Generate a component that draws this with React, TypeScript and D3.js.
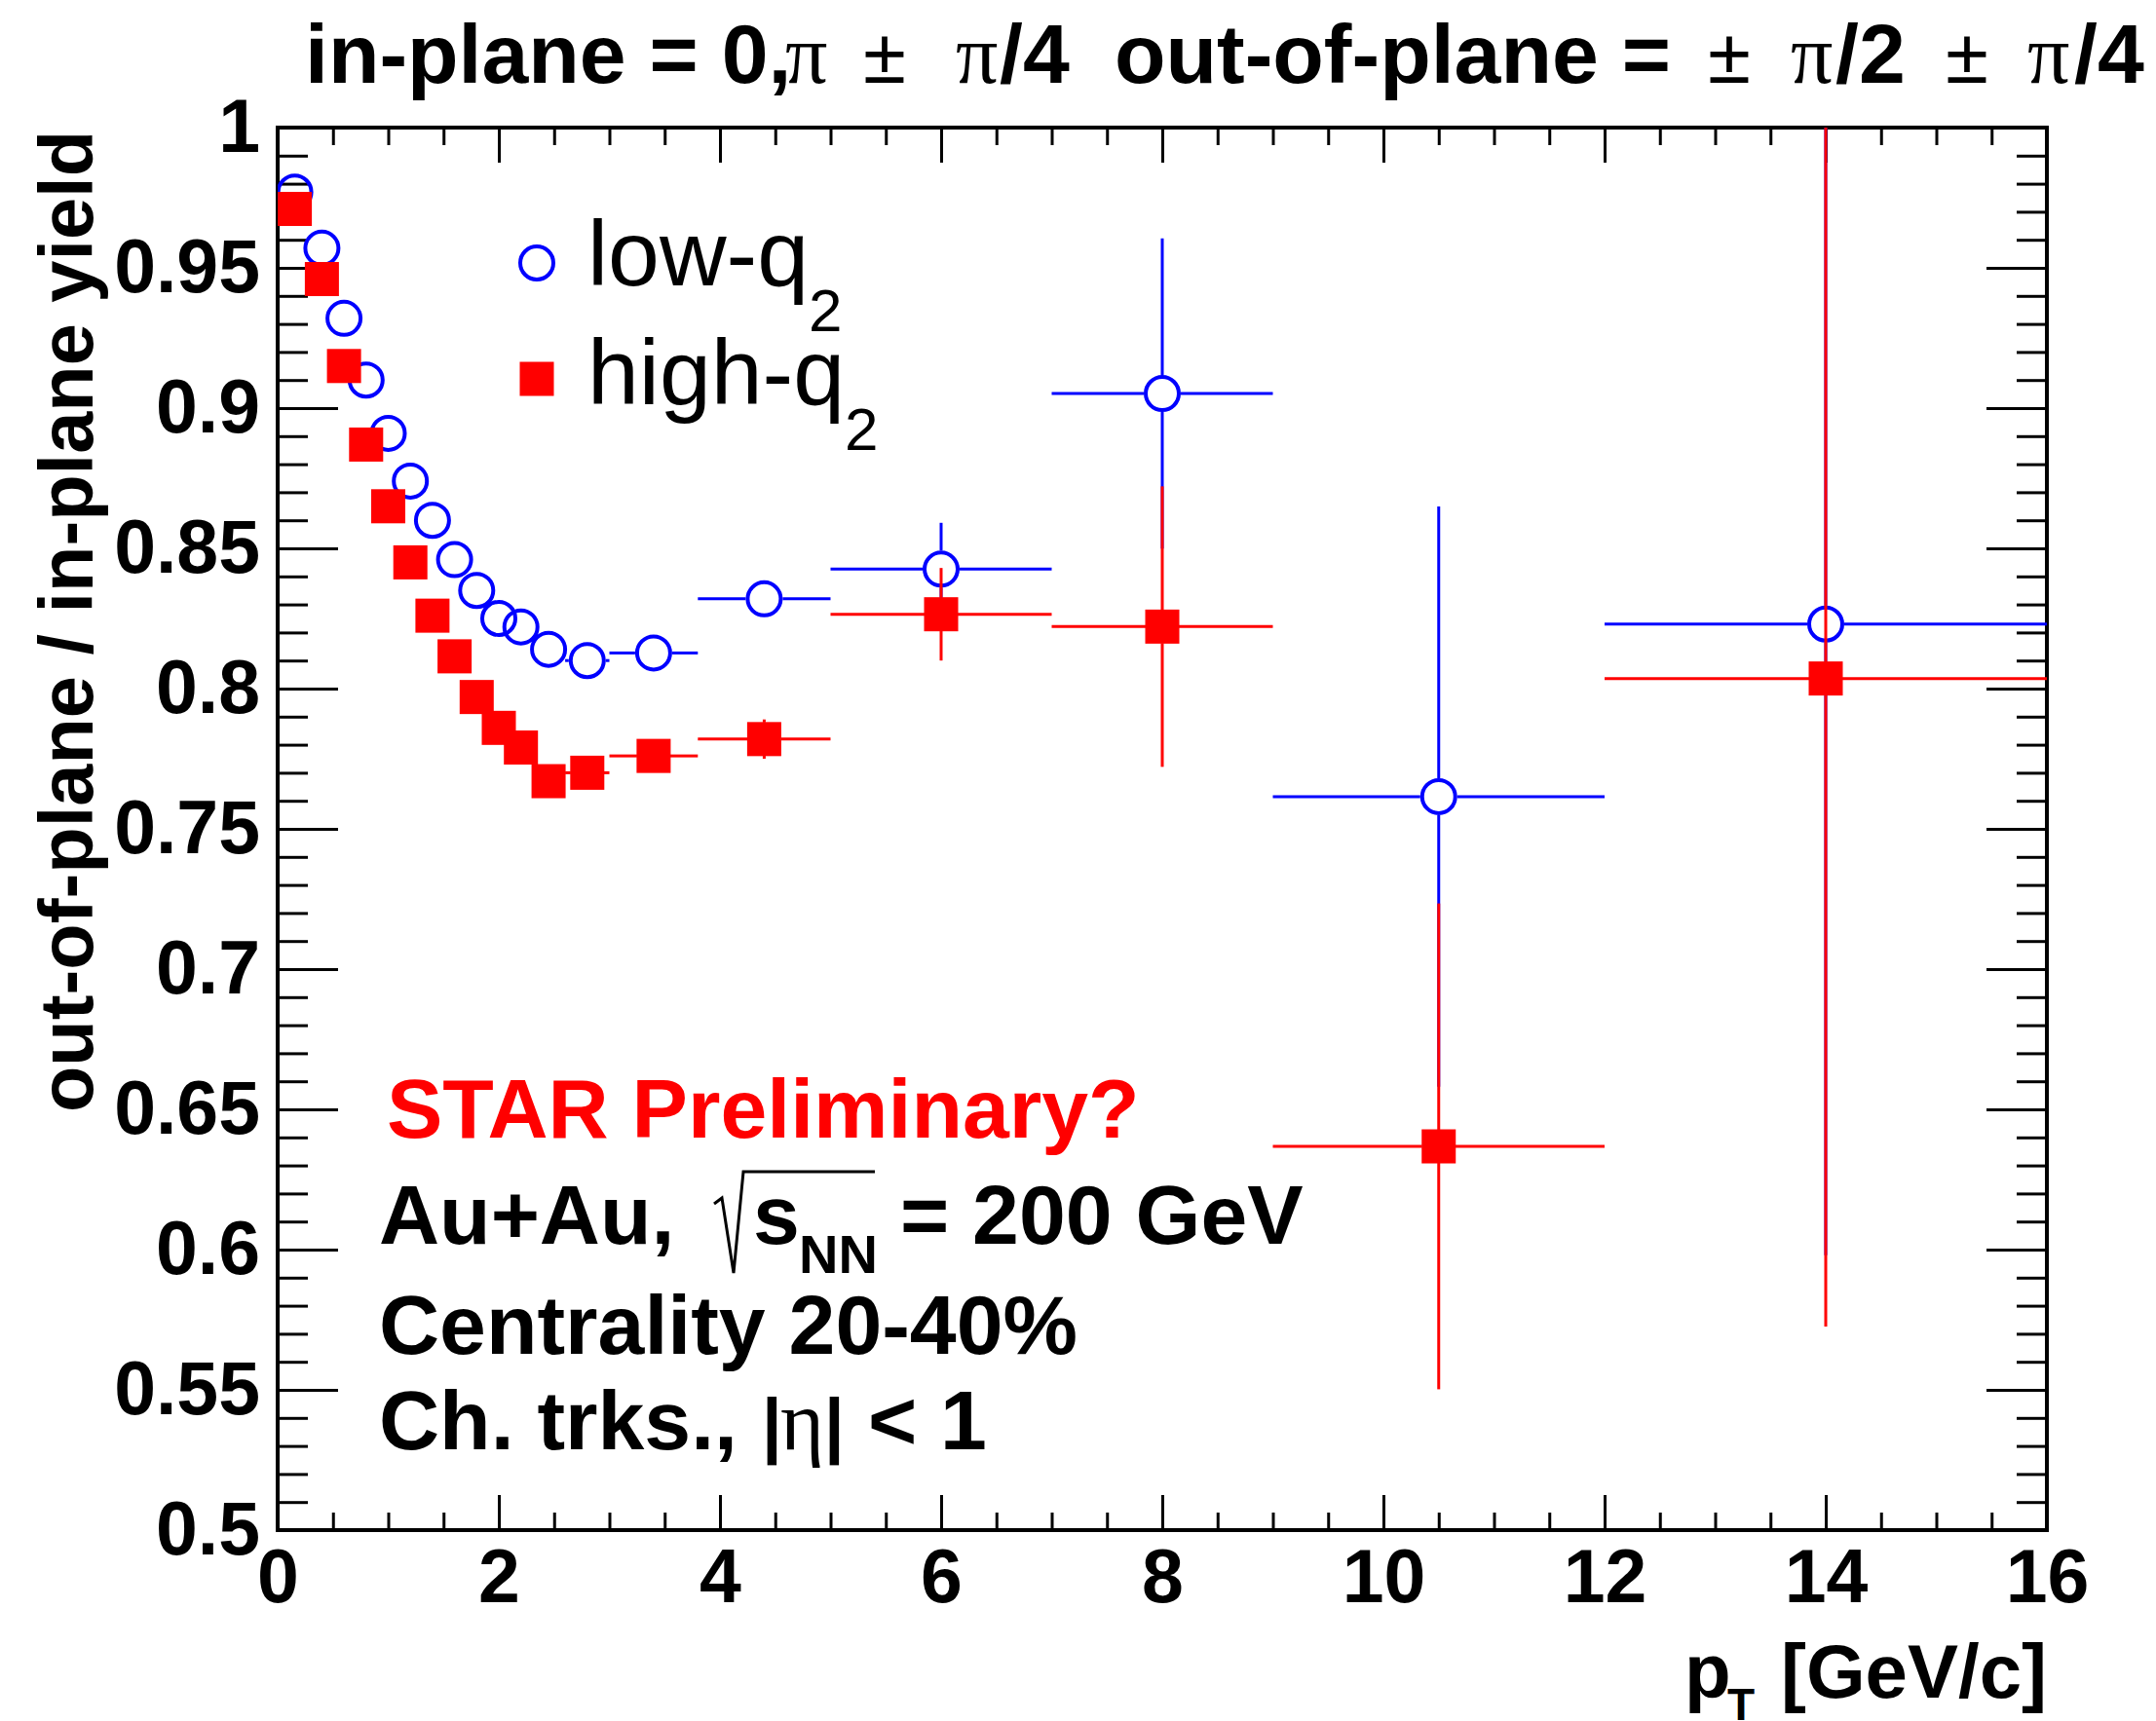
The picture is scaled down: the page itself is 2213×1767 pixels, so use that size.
import React, { useEffect, useRef } from 'react'
import * as d3 from 'd3'

// pT bin centres and bin edges (GeV/c)
const pt = [0.155, 0.4, 0.6, 0.8, 1.0, 1.2, 1.4, 1.6, 1.8, 2.0, 2.2, 2.45, 2.8, 3.4, 4.4, 6, 8, 10.5, 14]
const ptLo = [0.1, 0.3, 0.5, 0.7, 0.9, 1.1, 1.3, 1.5, 1.7, 1.9, 2.1, 2.3, 2.6, 3.0, 3.8, 5, 7, 9, 12]
const ptHi = [0.2, 0.5, 0.7, 0.9, 1.1, 1.3, 1.5, 1.7, 1.9, 2.1, 2.3, 2.6, 3.0, 3.8, 5.0, 7, 9, 12, 16]

// low-q2 (open blue circles)
const lowQ2 = [0.977, 0.957, 0.932, 0.910, 0.891, 0.874, 0.860, 0.846, 0.835, 0.825, 0.822, 0.814, 0.810, 0.8127, 0.832, 0.8426, 0.9052, 0.7615, 0.823]
const lowQ2Err = [0.003, 0.003, 0.003, 0.003, 0.003, 0.003, 0.003, 0.003, 0.003, 0.003, 0.003, 0.004, 0.004, 0.004, 0.005, 0.0165, 0.0553, 0.1034, 0.225]

// high-q2 (filled red squares)
const highQ2 = [0.971, 0.946, 0.915, 0.887, 0.865, 0.845, 0.826, 0.8115, 0.797, 0.786, 0.779, 0.767, 0.770, 0.776, 0.782, 0.8265, 0.8221, 0.6368, 0.8036]
const highQ2Err = [0.003, 0.003, 0.003, 0.003, 0.003, 0.003, 0.003, 0.003, 0.003, 0.003, 0.003, 0.004, 0.004, 0.005, 0.007, 0.0165, 0.050, 0.0866, 0.231]

const xMajor = [0, 2, 4, 6, 8, 10, 12, 14, 16]
const xTickLabels = ['0', '2', '4', '6', '8', '10', '12', '14', '16']
const yMajor = [0.5, 0.55, 0.6, 0.65, 0.7, 0.75, 0.8, 0.85, 0.9, 0.95, 1]
const yTickLabels = ['0.5', '0.55', '0.6', '0.65', '0.7', '0.75', '0.8', '0.85', '0.9', '0.95', '1']

const SANS = 'Liberation Sans, Arial, Helvetica, sans-serif'
const SERIF = 'Liberation Serif, Times New Roman, serif'

export default function App() {
  const ref = useRef<SVGSVGElement>(null)

  useEffect(() => {
    const W = 2213, H = 1767
    const margin = { top: 131, right: 112, bottom: 196, left: 285 }
    const w = W - margin.left - margin.right
    const h = H - margin.top - margin.bottom

    const svg = d3.select(ref.current)
    svg.selectAll('*').remove()

    const x = d3.scaleLinear().domain([0, 16]).range([margin.left, margin.left + w])
    const y = d3.scaleLinear().domain([0.5, 1]).range([margin.top + h, margin.top])

    const xMinor = d3.range(0, 16.001, 0.5).filter(v => Math.abs(v % 2) > 1e-6)
    const yMinor = d3.range(50, 101, 1).map(v => v / 100).filter(v => Math.round(v * 100) % 5 !== 0)

    const styleAxis = (g: any) => {
      g.select('.domain').remove()
      g.selectAll('line').attr('stroke', '#000').attr('stroke-width', 3)
      g.attr('font-family', SANS).attr('font-size', 77).attr('font-weight', 'bold')
      g.selectAll('text').attr('fill', '#000')
    }

    // bottom axis
    svg.append('g').attr('transform', `translate(0,${margin.top + h})`)
      .call(d3.axisBottom(x).tickValues(xMajor).tickSize(-36).tickPadding(19)
        .tickFormat((d, i) => xTickLabels[i]))
      .call(styleAxis)
    svg.append('g').attr('transform', `translate(0,${margin.top + h})`)
      .call(d3.axisBottom(x).tickValues(xMinor).tickSize(-18).tickFormat(() => ''))
      .call(styleAxis)
    // top axis
    svg.append('g').attr('transform', `translate(0,${margin.top})`)
      .call(d3.axisTop(x).tickValues(xMajor).tickSize(-36).tickFormat(() => ''))
      .call(styleAxis)
    svg.append('g').attr('transform', `translate(0,${margin.top})`)
      .call(d3.axisTop(x).tickValues(xMinor).tickSize(-18).tickFormat(() => ''))
      .call(styleAxis)
    // left axis
    svg.append('g').attr('transform', `translate(${margin.left},0)`)
      .call(d3.axisLeft(y).tickValues(yMajor).tickSize(-62).tickPadding(18)
        .tickFormat((d, i) => yTickLabels[i]))
      .call(styleAxis)
    svg.append('g').attr('transform', `translate(${margin.left},0)`)
      .call(d3.axisLeft(y).tickValues(yMinor).tickSize(-31).tickFormat(() => ''))
      .call(styleAxis)
    // right axis
    svg.append('g').attr('transform', `translate(${margin.left + w},0)`)
      .call(d3.axisRight(y).tickValues(yMajor).tickSize(-62).tickFormat(() => ''))
      .call(styleAxis)
    svg.append('g').attr('transform', `translate(${margin.left + w},0)`)
      .call(d3.axisRight(y).tickValues(yMinor).tickSize(-31).tickFormat(() => ''))
      .call(styleAxis)

    // frame
    svg.append('rect')
      .attr('x', margin.left).attr('y', margin.top).attr('width', w).attr('height', h)
      .attr('fill', 'none').attr('stroke', '#000').attr('stroke-width', 4)

    // clip for data
    svg.append('clipPath').attr('id', 'plotclip').append('rect')
      .attr('x', margin.left).attr('y', margin.top).attr('width', w).attr('height', h)
    const plot = svg.append('g').attr('clip-path', 'url(#plotclip)')

    const drawSeries = (vals: number[], errs: number[], color: string, gap: number) => {
      const segs: [number, number, number, number][] = []
      vals.forEach((v, i) => {
        const cx = x(pt[i]), cy = y(v)
        const xl = x(ptLo[i]), xr = x(ptHi[i])
        const yt = y(v + errs[i]), yb = y(v - errs[i])
        if (cx - gap > xl) segs.push([xl, cy, cx - gap, cy])
        if (xr > cx + gap) segs.push([cx + gap, cy, xr, cy])
        if (cy - gap > yt) segs.push([cx, yt, cx, cy - gap])
        if (yb > cy + gap) segs.push([cx, cy + gap, cx, yb])
      })
      plot.append('g').selectAll('line').data(segs).join('line')
        .attr('x1', d => d[0]).attr('y1', d => d[1]).attr('x2', d => d[2]).attr('y2', d => d[3])
        .attr('stroke', color).attr('stroke-width', 3)
    }

    // low-q2
    drawSeries(lowQ2, lowQ2Err, '#0000ff', 19)
    plot.append('g').selectAll('circle').data(lowQ2).join('circle')
      .attr('cx', (d, i) => x(pt[i])).attr('cy', d => y(d)).attr('r', 17)
      .attr('fill', 'none').attr('stroke', '#0000ff').attr('stroke-width', 4)

    // high-q2
    drawSeries(highQ2, highQ2Err, '#ff0000', 17)
    plot.append('g').selectAll('rect').data(highQ2).join('rect')
      .attr('x', (d, i) => x(pt[i]) - 17.5).attr('y', d => y(d) - 17.5)
      .attr('width', 35).attr('height', 35).attr('fill', '#ff0000')

    // legend
    svg.append('circle').attr('cx', 551).attr('cy', 270).attr('r', 17)
      .attr('fill', 'none').attr('stroke', '#0000ff').attr('stroke-width', 4)
    svg.append('rect').attr('x', 551 - 17.5).attr('y', 389 - 17.5).attr('width', 35).attr('height', 35)
      .attr('fill', '#ff0000')
    const leg1 = svg.append('text').attr('font-family', SANS).attr('font-size', 95).attr('fill', '#000')
      .attr('x', 603).attr('y', 293)
    leg1.append('tspan').text('low-q')
    leg1.append('tspan').attr('font-size', 62).attr('dy', 47).text('2')
    const leg2 = svg.append('text').attr('font-family', SANS).attr('font-size', 95).attr('fill', '#000')
      .attr('x', 603).attr('y', 415)
    leg2.append('tspan').text('high-q')
    leg2.append('tspan').attr('font-size', 62).attr('dy', 47).text('2')

    // title
    const title = svg.append('g').attr('font-family', SANS).attr('font-weight', 'bold').attr('font-size', 86).attr('fill', '#000')
    const titleParts: { t: string, x: number, kind: string }[] = [
      { t: 'in-plane = 0,', x: 313, kind: 'sans' },
      { t: 'π', x: 806, kind: 'serif' },
      { t: '±', x: 908, kind: 'pm' },
      { t: 'π', x: 981, kind: 'serif' },
      { t: '/4', x: 1026, kind: 'sans' },
      { t: 'out-of-plane =', x: 1144, kind: 'sans' },
      { t: '±', x: 1775, kind: 'pm' },
      { t: 'π', x: 1838, kind: 'serif' },
      { t: '/2', x: 1884, kind: 'sans' },
      { t: '±', x: 2019, kind: 'pm' },
      { t: 'π', x: 2081, kind: 'serif' },
      { t: '/4', x: 2129, kind: 'sans' },
    ]
    titleParts.forEach(p => {
      const t = title.append('text').attr('x', p.x).attr('y', 85).text(p.t)
      if (p.kind === 'serif') t.attr('font-family', SERIF).attr('font-weight', 'normal')
      if (p.kind === 'pm') t.attr('font-weight', 'normal').attr('font-size', 80).attr('text-anchor', 'middle')
    })

    // y axis title
    svg.append('text')
      .attr('transform', 'translate(95, 638) rotate(-90)')
      .attr('text-anchor', 'middle')
      .attr('font-family', SANS).attr('font-weight', 'bold').attr('font-size', 78)
      .attr('textLength', 1008).attr('lengthAdjust', 'spacingAndGlyphs')
      .text('out-of-plane / in-plane yield')

    // x axis title
    const xt = svg.append('g').attr('font-family', SANS).attr('font-weight', 'bold').attr('fill', '#000')
    xt.append('text').attr('x', 1729).attr('y', 1743).attr('font-size', 78).text('p')
    xt.append('text').attr('x', 1773).attr('y', 1766).attr('font-size', 46).text('T')
    xt.append('text').attr('x', margin.left + w).attr('y', 1743).attr('font-size', 78)
      .attr('text-anchor', 'end').text('[GeV/c]')

    // annotations
    const ann = svg.append('g').attr('font-family', SANS).attr('font-weight', 'bold').attr('font-size', 86)
    ann.append('text').attr('x', 397).attr('y', 1168).attr('fill', '#ff0000').text('STAR Preliminary?')

    ann.append('text').attr('x', 389).attr('y', 1277).text('Au+Au,')
    ann.append('path').attr('d', 'M733,1236 L741,1230 L753,1307 L763,1203 L898,1203')
      .attr('fill', 'none').attr('stroke', '#000').attr('stroke-width', 3)
    ann.append('text').attr('x', 773).attr('y', 1277).text('s')
    ann.append('text').attr('x', 820).attr('y', 1307).attr('font-size', 56).text('NN')
    ann.append('text').attr('x', 924).attr('y', 1277).text('= 200 GeV')

    ann.append('text').attr('x', 389).attr('y', 1390).text('Centrality 20-40%')

    ann.append('text').attr('x', 389).attr('y', 1488).text('Ch. trks.,')
    ann.append('text').attr('x', 782).attr('y', 1488).attr('font-size', 74).text('|')
    ann.append('text').attr('x', 801).attr('y', 1488).attr('font-family', SERIF).attr('font-weight', 'normal').text('η')
    ann.append('text').attr('x', 846).attr('y', 1488).attr('font-size', 74).text('|')
    ann.append('text').attr('x', 891).attr('y', 1488).text('< 1')
  }, [])

  return (
    <svg ref={ref} width={2213} height={1767}
      style={{ position: 'absolute', left: 0, top: 0, background: '#fff' }} />
  )
}
